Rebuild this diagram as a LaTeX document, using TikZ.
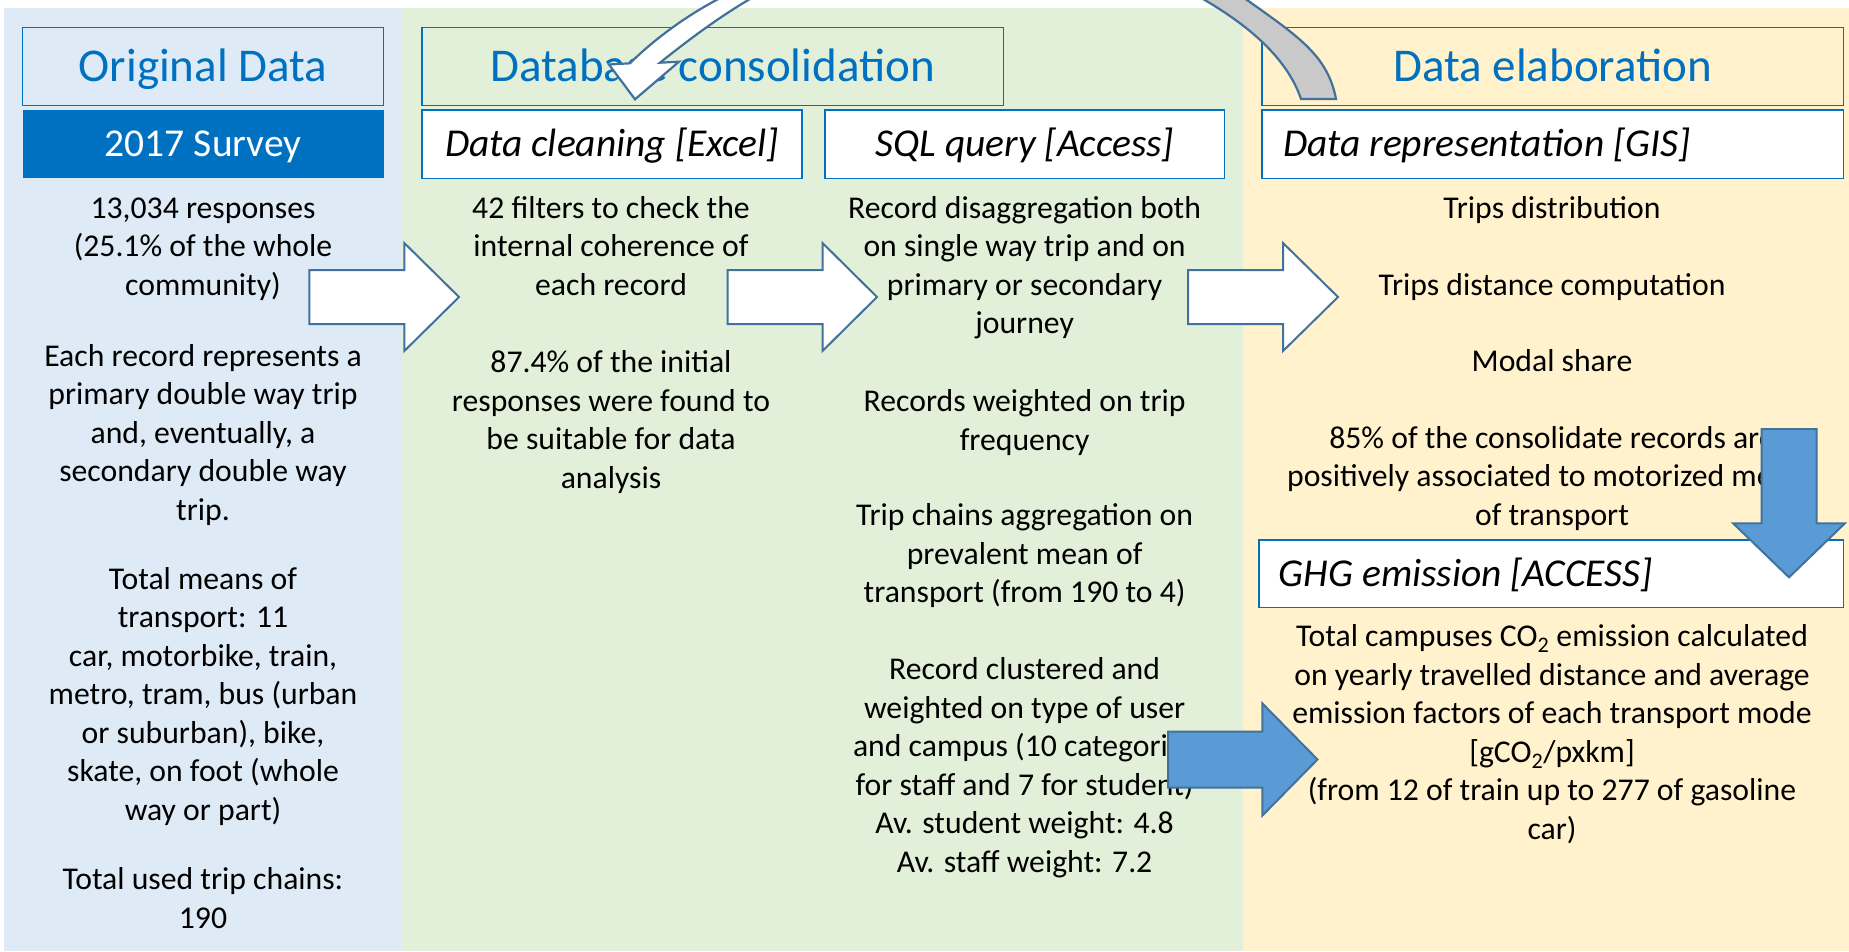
\documentclass[tikz,border=0pt]{standalone}
\usepackage{fontspec}
\setmainfont{Carlito}
\definecolor{pblue}{HTML}{DEEBF7}
\definecolor{pgreen}{HTML}{E2F0D9}
\definecolor{pyellow}{HTML}{FFF2CC}
\definecolor{ttlblue}{HTML}{0070C0}
\definecolor{boxblue}{HTML}{0070C0}
\definecolor{aedge}{HTML}{41719C}
\definecolor{ablue}{HTML}{5B9BD5}
\definecolor{agray}{HTML}{C9C9C9}
\tikzset{
  hdrbox/.style={draw=boxblue, line width=1.5pt, inner sep=0pt},
  subbox/.style={draw=boxblue, fill=white, line width=1.5pt, inner sep=0pt},
  ttltxt/.style={font=\fontsize{47}{56}\selectfont, text=ttlblue, anchor=base, inner sep=0pt},
  subtxt/.style={font=\fontsize{39.5}{47}\selectfont\itshape, anchor=base, inner sep=0pt},
  bodytxt/.style={font=\fontsize{31.7}{38.5}\selectfont, align=center, anchor=base, inner sep=0pt},
  wharrow/.style={fill=white, draw=aedge, line width=2pt},
  blarrow/.style={fill=ablue, draw=aedge, line width=2pt},
  grarrow/.style={fill=agray, draw=aedge, line width=2.2pt},
}
\begin{document}
\begin{tikzpicture}[x=1pt,y=-1pt]
\useasboundingbox (0,0) rectangle (1849,951);
% panels
\fill[white] (0,0) rectangle (1849,951);
\fill[pblue] (4,8) rectangle (402,951);
\fill[pgreen] (402,8) rectangle (1243,951);
\fill[pyellow] (1243,8) rectangle (1849,951);

% header boxes
\node[hdrbox, minimum width=361pt, minimum height=78.4pt] (borig) at (203,66.5) {};
\node[hdrbox, minimum width=581.4pt, minimum height=78.4pt] (bdbc) at (712.7,66.5) {};
\node[hdrbox, minimum width=581.6pt, minimum height=78.4pt] (belab) at (1552.8,66.5) {};
\node[ttltxt] (torig) at (203,81.7) {Original Data};
\node[ttltxt] (tdbc) at (712.7,81.7) {Database consolidation};
\node[ttltxt] (telab) at (1552.8,81.7) {Data elaboration};

% sub boxes
\node[fill=ttlblue, inner sep=0pt, minimum width=360.5pt, minimum height=68.3pt] (bsurvey) at (203.25,144.15) {};
\node[subbox, minimum width=380pt, minimum height=68.3pt] (bclean) at (612,144.15) {};
\node[subbox, minimum width=399.5pt, minimum height=68.3pt] (bsql) at (1024.75,144.15) {};
\node[subbox, minimum width=581.6pt, minimum height=68.3pt] (bgis) at (1552.8,144.15) {};
\node[subbox, minimum width=584.6pt, minimum height=67.3pt] (bghg) at (1551.3,573.65) {};
\node[subtxt, font=\fontsize{39.5}{47}\selectfont, text=white] (tsurvey) at (203.25,156.9) {2017 Survey};
\node[subtxt] (tclean) at (612,156.9) {Data cleaning [Excel]};
\node[subtxt] (tsql) at (1024.75,156.9) {SQL query [Access]};
\node[subtxt, anchor=base west] (tgis) at (1282.8,156.9) {Data representation [GIS]};
\node[subtxt, anchor=base west] (tghg) at (1278.6,586.4) {GHG emission [ACCESS]};

% column 1 (positions are baselines of the last line)
\node[bodytxt] (c1a) at (203,295.3) {13,034 responses\\(25.1\% of the whole\\community)};
\node[bodytxt] (c1b) at (203,520.4) {Each record represents a\\primary double way trip\\and, eventually, a\\secondary double way\\trip.};
\node[bodytxt] (c1c) at (203,820.3) {Total means of\\transport: 11\\car, motorbike, train,\\metro, tram, bus (urban\\or suburban), bike,\\skate, on foot (whole\\way or part)};
\node[bodytxt] (c1d) at (203,928) {Total used trip chains:\\190};

% column 2
\node[bodytxt] (c2a) at (611,295.3) {42 filters to check the\\internal coherence of\\each record};
\node[bodytxt] (c2b) at (611,488.1) {87.4\% of the initial\\responses were found to\\be suitable for data\\analysis};

% column 3
\node[bodytxt] (c3a) at (1024.6,333.8) {Record disaggregation both\\on single way trip and on\\primary or secondary\\journey};
\node[bodytxt] (c3b) at (1024.6,450.1) {Records weighted on trip\\frequency};
\node[bodytxt] (c3c) at (1024.6,602.5) {Trip chains aggregation on\\prevalent mean of\\transport (from 190 to 4)};
\node[bodytxt] (c3d) at (1024.6,872) {Record clustered and\\weighted on type of user\\and campus (10 categories\\for staff and 7 for student)\\Av. student weight: 4.8\\Av. staff weight: 7.2};

% column 4
\node[bodytxt] (c4a) at (1552,218.3) {Trips distribution};
\node[bodytxt] (c4b) at (1552,295) {Trips distance computation};
\node[bodytxt] (c4c) at (1552,371.7) {Modal share};
\node[bodytxt] (c4d) at (1552,525.3) {85\% of the consolidate records are\\positively associated to motorized means\\of transport};
\node[bodytxt] (c4e) at (1552,839.2) {Total campuses CO\textsubscript{2} emission calculated\\on yearly travelled distance and average\\emission factors of each transport mode\\{[gCO\textsubscript{2}/pxkm]}\\(from 12 of train up to 277 of gasoline\\car)};

% block arrows
\draw[wharrow] (309.3,270) -- (404.3,270) -- (404.3,243) -- (459,297) -- (404.3,351) -- (404.3,324) -- (309.3,324) -- cycle;
\draw[wharrow] (727.5,270) -- (822.5,270) -- (822.5,243) -- (877,297) -- (822.5,351) -- (822.5,324) -- (727.5,324) -- cycle;
\draw[wharrow] (1188,270) -- (1283,270) -- (1283,243) -- (1338,297) -- (1283,351) -- (1283,324) -- (1188,324) -- cycle;
\draw[blarrow] (1168,731.5) -- (1262.4,731.5) -- (1262.4,703.5) -- (1317.5,759.5) -- (1262.4,815.5) -- (1262.4,787.5) -- (1168,787.5) -- cycle;
\draw[blarrow] (1761.5,429) -- (1816.5,429) -- (1816.5,523.3) -- (1844.9,523.3) -- (1789,577.3) -- (1733.1,523.3) -- (1761.5,523.3) -- cycle;

% curved arrow
\begin{scope}
\clip (0,0) rectangle (1849,951);
\draw[wharrow, line width=2.2pt] (726,-5) .. controls (686,15) and (652,41.3) .. (630,63.3) -- (609,64.5) -- (635,99.3) -- (679,61.7) -- (660,62.7) .. controls (685,42.7) and (721,15) .. (757,-5) -- cycle;
\draw[grarrow] (1240,-5) .. controls (1296,35) and (1327.5,54) .. (1336,99) -- (1301,99) .. controls (1287.4,59) and (1249.7,25) .. (1196,-5) -- cycle;
\end{scope}
\end{tikzpicture}
\end{document}
